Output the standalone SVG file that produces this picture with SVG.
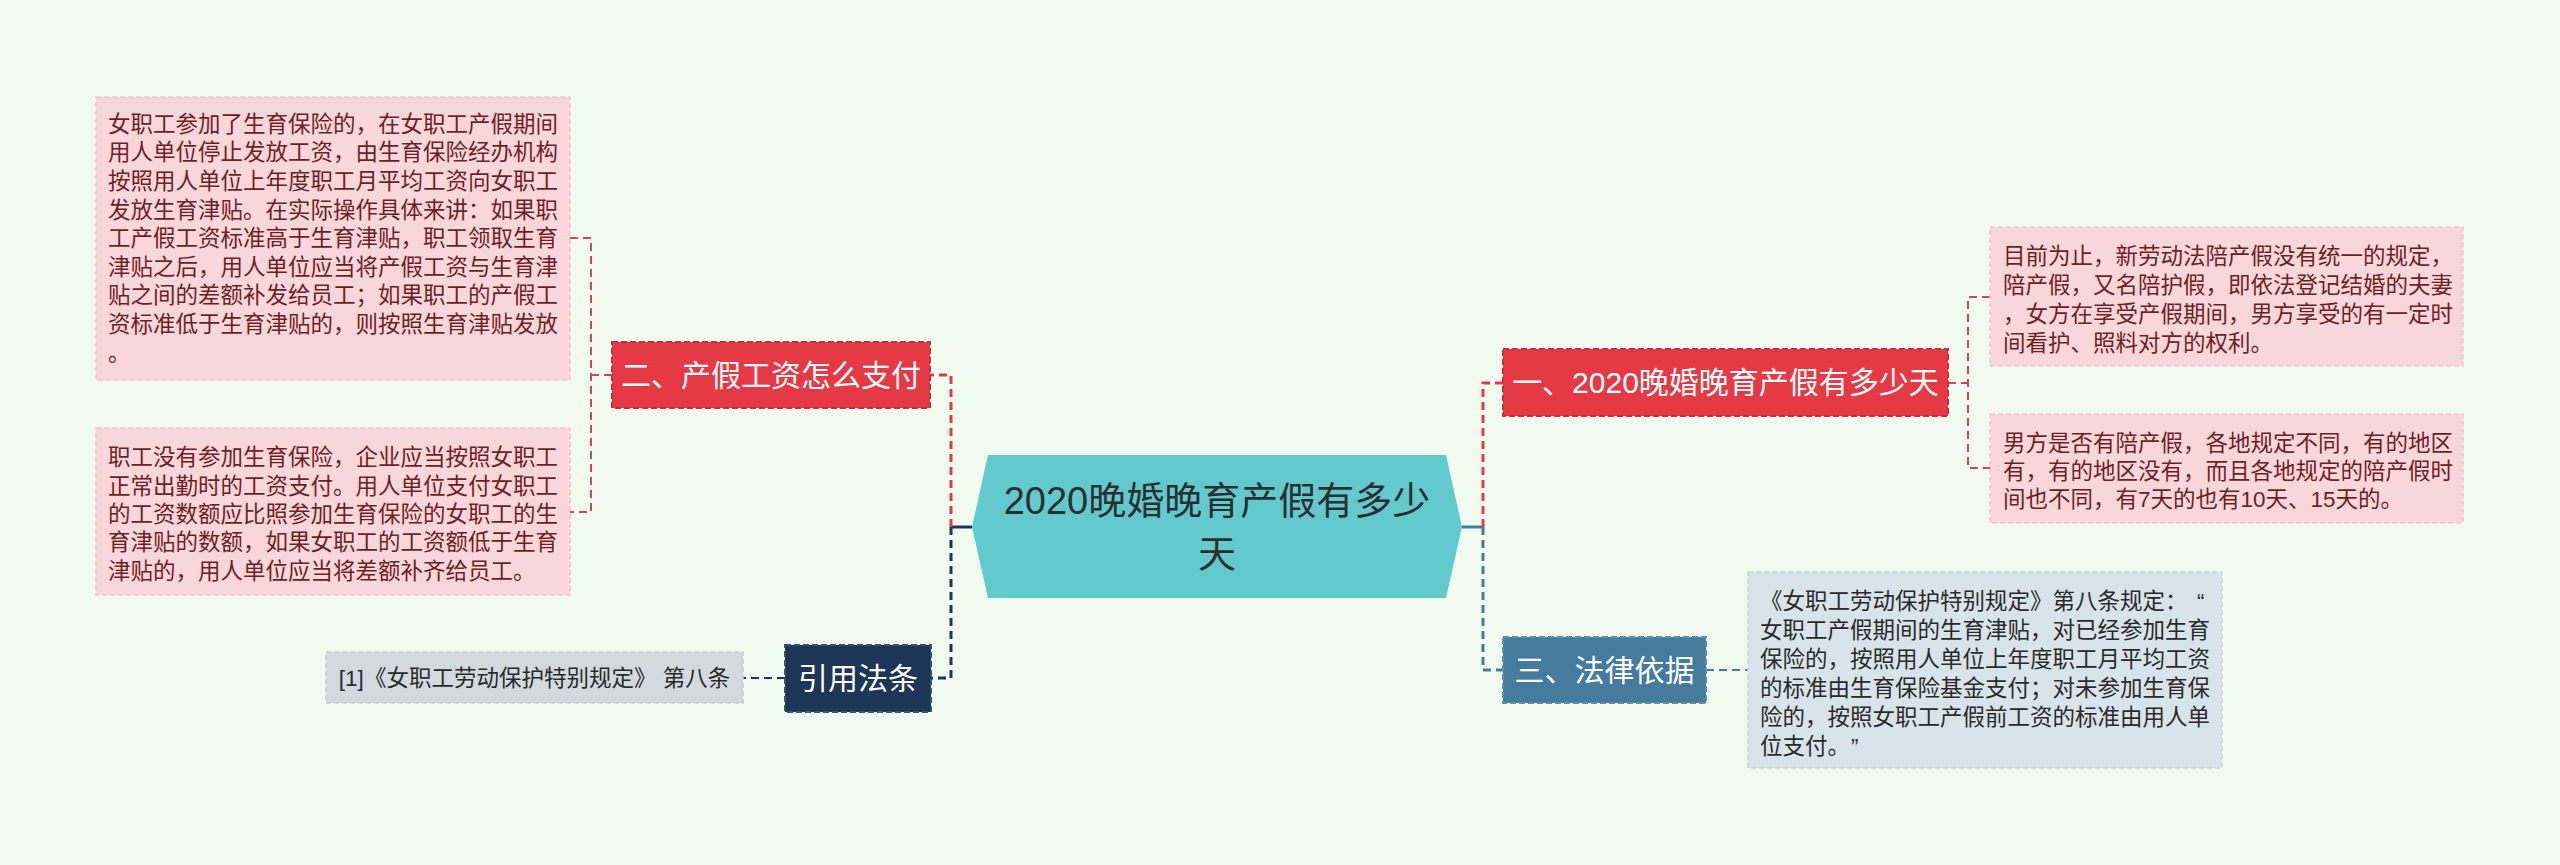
<svg xmlns="http://www.w3.org/2000/svg" width="2560" height="865" viewBox="0 0 2560 865">
<style>
.bg{fill:#f1faee}
.lvl1{font-family:'Liberation Sans','Noto Sans CJK SC',sans-serif;font-size:30px;fill:#ffffff;text-anchor:middle}
.leaf{font-family:'Liberation Sans','Noto Sans CJK SC',sans-serif;font-size:22.5px;fill:#6d1f26}
.leafg{font-family:'Liberation Sans','Noto Sans CJK SC',sans-serif;font-size:22.5px;fill:#2a2a2a}
.center{font-family:'Liberation Sans','Noto Sans CJK SC',sans-serif;font-size:38px;fill:#2b2f33;text-anchor:middle}
.pink{fill:#f9d6da;stroke:#f4c4cb;stroke-width:1.5;stroke-dasharray:5 3}
.grayb{fill:#d9e3ea;stroke:#c9d5de;stroke-width:1.5;stroke-dasharray:5 3}
.grayn{fill:#d4d9e0;stroke:#c3c9d2;stroke-width:1.5;stroke-dasharray:5 3}
.red{fill:#e63946;stroke:#c92f3c;stroke-width:2;stroke-dasharray:6 3}
.navy{fill:#1d3557;stroke:#3a5170;stroke-width:2;stroke-dasharray:6 3}
.steel{fill:#457b9d;stroke:#5f8fae;stroke-width:2;stroke-dasharray:6 3}
.c{fill:none;stroke-width:3;stroke-dasharray:8 5}
.cs{fill:none;stroke-width:2;stroke-dasharray:8 5}
</style>
<rect class="bg" x="0" y="0" width="2560" height="865"/>

<g id="connectors">
  <path d="M951 527 H972" fill="none" stroke="#1d3557" stroke-width="3"/>
  <path class="c" d="M951 527 V375 H930" stroke="#e63946"/>
  <path class="c" d="M951 527 V678 H931" stroke="#1d3557"/>
  <path class="cs" d="M612 375 H591" stroke="#d0455a"/>
  <path class="cs" d="M570 238 H591 V512 H570" stroke="#d0455a"/>
  <path class="cs" d="M785 678 H743" stroke="#1d3557"/>
  <path d="M1462 527 H1483" fill="none" stroke="#457b9d" stroke-width="3"/>
  <path class="c" d="M1483 527 V383 H1503" stroke="#e63946"/>
  <path class="c" d="M1483 527 V670 H1503" stroke="#457b9d"/>
  <path class="cs" d="M1948 383 H1968" stroke="#d0455a"/>
  <path class="cs" d="M1990 297 H1968 V468 H1990" stroke="#d0455a"/>
  <path class="cs" d="M1706 670 H1748" stroke="#457b9d"/>
</g>

<g id="center">
  <polygon points="972,527 988,455 1446,455 1462,527 1446,598 988,598" fill="#62c9cc"/>
  <text class="center" x="1217" y="514">2020晚婚晚育产假有多少</text>
  <text class="center" x="1217" y="567">天</text>
</g>

<g id="node-er">
  <rect class="red" x="612" y="342" width="318" height="66"/>
  <text class="lvl1" x="771" y="386">二、产假工资怎么支付</text>
</g>

<g id="node-yinyong">
  <rect class="navy" x="785" y="645" width="146" height="67"/>
  <text class="lvl1" x="858" y="689">引用法条</text>
</g>

<g id="node-yi">
  <rect class="red" x="1503" y="349" width="445" height="67"/>
  <text class="lvl1" x="1725.5" y="393">一、2020晚婚晚育产假有多少天</text>
</g>

<g id="node-san">
  <rect class="steel" x="1503" y="637" width="203" height="66"/>
  <text class="lvl1" x="1604.5" y="681">三、法律依据</text>
</g>

<g id="leaf-l1">
  <rect class="pink" x="96" y="97" width="474" height="283"/>
  <text class="leaf">
    <tspan x="108" y="131.8">女职工参加了生育保险的，在女职工产假期间</tspan>
    <tspan x="108" y="160.4">用人单位停止发放工资，由生育保险经办机构</tspan>
    <tspan x="108" y="189">按照用人单位上年度职工月平均工资向女职工</tspan>
    <tspan x="108" y="217.6">发放生育津贴。在实际操作具体来讲：如果职</tspan>
    <tspan x="108" y="246.2">工产假工资标准高于生育津贴，职工领取生育</tspan>
    <tspan x="108" y="274.8">津贴之后，用人单位应当将产假工资与生育津</tspan>
    <tspan x="108" y="303.4">贴之间的差额补发给员工；如果职工的产假工</tspan>
    <tspan x="108" y="332">资标准低于生育津贴的，则按照生育津贴发放</tspan>
    <tspan x="108" y="360.6">。</tspan>
  </text>
</g>

<g id="leaf-l2">
  <rect class="pink" x="96" y="428" width="474" height="167"/>
  <text class="leaf">
    <tspan x="108" y="465.2">职工没有参加生育保险，企业应当按照女职工</tspan>
    <tspan x="108" y="493.6">正常出勤时的工资支付。用人单位支付女职工</tspan>
    <tspan x="108" y="522">的工资数额应比照参加生育保险的女职工的生</tspan>
    <tspan x="108" y="550.4">育津贴的数额，如果女职工的工资额低于生育</tspan>
    <tspan x="108" y="578.8">津贴的，用人单位应当将差额补齐给员工。</tspan>
  </text>
</g>

<g id="leaf-cite">
  <rect class="grayn" x="326" y="652" width="417" height="51"/>
  <text class="leafg" x="534.5" y="686" text-anchor="middle">[1]《女职工劳动保护特别规定》 第八条</text>
</g>

<g id="leaf-r1">
  <rect class="pink" x="1990" y="227" width="473" height="139"/>
  <text class="leaf">
    <tspan x="2003" y="263.5">目前为止，新劳动法陪产假没有统一的规定，</tspan>
    <tspan x="2003" y="292.5">陪产假，又名陪护假，即依法登记结婚的夫妻</tspan>
    <tspan x="2003" y="321.5">，女方在享受产假期间，男方享受的有一定时</tspan>
    <tspan x="2003" y="350.5">间看护、照料对方的权利。</tspan>
  </text>
</g>

<g id="leaf-r2">
  <rect class="pink" x="1990" y="414" width="473" height="109"/>
  <text class="leaf">
    <tspan x="2003" y="450.5">男方是否有陪产假，各地规定不同，有的地区</tspan>
    <tspan x="2003" y="478.5">有，有的地区没有，而且各地规定的陪产假时</tspan>
    <tspan x="2003" y="506.5">间也不同，有7天的也有10天、15天的。</tspan>
  </text>
</g>

<g id="leaf-law">
  <rect class="grayb" x="1748" y="572" width="474" height="196"/>
  <text class="leafg">
    <tspan x="1760" y="608.5">《女职工劳动保护特别规定》第八条规定：</tspan><tspan x="2197" y="608.5">“</tspan>
    <tspan x="1760" y="637.5">女职工产假期间的生育津贴，对已经参加生育</tspan>
    <tspan x="1760" y="666.5">保险的，按照用人单位上年度职工月平均工资</tspan>
    <tspan x="1760" y="695.5">的标准由生育保险基金支付；对未参加生育保</tspan>
    <tspan x="1760" y="724.5">险的，按照女职工产假前工资的标准由用人单</tspan>
    <tspan x="1760" y="753.5">位支付。</tspan><tspan x="1851" y="753.5">”</tspan>
  </text>
</g>
</svg>
